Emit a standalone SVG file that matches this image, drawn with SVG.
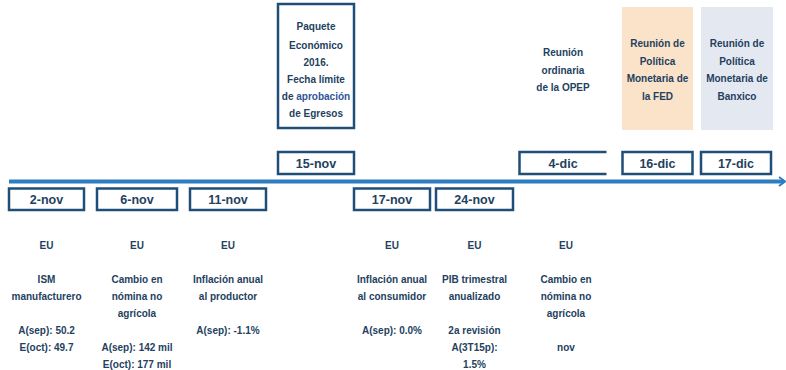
<svg xmlns="http://www.w3.org/2000/svg" width="786" height="370" viewBox="0 0 786 370">
<style>
.t{font-family:"Liberation Sans",Arial,sans-serif;font-weight:bold;font-size:10px;fill:#243F60;text-anchor:middle}
.d{font-family:"Liberation Sans",Arial,sans-serif;font-weight:bold;font-size:12.5px;fill:#243F60;text-anchor:middle}
.b{fill:#fff;stroke:#1F4E79;stroke-width:2.5}
.hl{fill:#2F5597}
</style>
<rect width="786" height="370" fill="#fff"/>
<g id="connectors">
<line x1="9" y1="181.5" x2="784" y2="181.5" stroke="#2E7DC2" stroke-width="4"/>
<path d="M779,177 L785,181.5 L779,186" fill="none" stroke="#2E7DC2" stroke-width="2"/>
</g>
<g id="n-2nov">
<rect class="b" x="9" y="188.5" width="75" height="21.5"/>
<text class="d" x="46.5" y="204">2-nov</text>
<text class="t" x="46.5" y="249">EU</text>
<text class="t" x="46.5" y="283">ISM</text>
<text class="t" x="46.5" y="300">manufacturero</text>
<text class="t" x="46.5" y="334">A(sep): 50.2</text>
<text class="t" x="46.5" y="351">E(oct): 49.7</text>
</g>
<g id="n-6nov">
<rect class="b" x="97" y="188.5" width="80" height="21.5"/>
<text class="d" x="137" y="204">6-nov</text>
<text class="t" x="137" y="249">EU</text>
<text class="t" x="137" y="283">Cambio en</text>
<text class="t" x="137" y="300">nómina no</text>
<text class="t" x="137" y="317">agrícola</text>
<text class="t" x="137" y="351">A(sep): 142 mil</text>
<text class="t" x="137" y="368">E(oct): 177 mil</text>
</g>
<g id="n-11nov">
<rect class="b" x="190" y="188.5" width="76" height="21.5"/>
<text class="d" x="228" y="204">11-nov</text>
<text class="t" x="228" y="249">EU</text>
<text class="t" x="228" y="283">Inflación anual</text>
<text class="t" x="228" y="300">al productor</text>
<text class="t" x="228" y="334">A(sep): -1.1%</text>
</g>
<g id="n-15nov">
<rect class="b" x="278" y="4" width="76" height="124"/>
<text class="t" x="316" y="30">Paquete</text>
<text class="t" x="316" y="49">Económico</text>
<text class="t" x="316" y="66">2016.</text>
<text class="t" x="316" y="83">Fecha límite</text>
<text class="t" x="316" y="100">de <tspan class="hl">aprobación</tspan></text>
<text class="t" x="316" y="117">de Egresos</text>
<rect class="b" x="278" y="152" width="76" height="22"/>
<text class="d" x="316" y="167.5">15-nov</text>
</g>
<g id="n-17nov">
<rect class="b" x="354" y="188.5" width="76" height="21.5"/>
<text class="d" x="392" y="204">17-nov</text>
<text class="t" x="392" y="249">EU</text>
<text class="t" x="392" y="283">Inflación anual</text>
<text class="t" x="392" y="300">al consumidor</text>
<text class="t" x="392" y="334">A(sep): 0.0%</text>
</g>
<g id="n-24nov">
<rect class="b" x="436" y="188.5" width="77" height="21.5"/>
<text class="d" x="474.5" y="204">24-nov</text>
<text class="t" x="474.5" y="249">EU</text>
<text class="t" x="474.5" y="283">PIB trimestral</text>
<text class="t" x="474.5" y="300">anualizado</text>
<text class="t" x="474.5" y="334">2a revisión</text>
<text class="t" x="474.5" y="351">A(3T15p):</text>
<text class="t" x="474.5" y="368">1.5%</text>
</g>
<g id="n-4dic">
<text class="t" x="563" y="56">Reunión</text>
<text class="t" x="563" y="74">ordinaria</text>
<text class="t" x="563" y="91">de la OPEP</text>
<path d="M606.5,152 L519.5,152 L519.5,174 L606.5,174" fill="#fff" stroke="#1F4E79" stroke-width="2.5"/>
<text class="d" x="563" y="167.5">4-dic</text>
<text class="t" x="566" y="249">EU</text>
<text class="t" x="566" y="283">Cambio en</text>
<text class="t" x="566" y="300">nómina no</text>
<text class="t" x="566" y="317">agrícola</text>
<text class="t" x="566" y="351">nov</text>
</g>
<g id="n-16dic">
<rect x="622" y="7" width="71" height="123" fill="#FBE3C9"/>
<text class="t" x="657.5" y="47">Reunión de</text>
<text class="t" x="657.5" y="65">Política</text>
<text class="t" x="657.5" y="82">Monetaria de</text>
<text class="t" x="657.5" y="100">la FED</text>
<rect class="b" x="622.5" y="152" width="70" height="22"/>
<text class="d" x="657.5" y="167.5">16-dic</text>
</g>
<g id="n-17dic">
<rect x="701" y="7" width="72" height="123" fill="#E4E9F1"/>
<text class="t" x="737" y="47">Reunión de</text>
<text class="t" x="737" y="65">Política</text>
<text class="t" x="737" y="82">Monetaria de</text>
<text class="t" x="737" y="100">Banxico</text>
<rect class="b" x="701" y="152" width="70" height="22"/>
<text class="d" x="736" y="167.5">17-dic</text>
</g>
</svg>
